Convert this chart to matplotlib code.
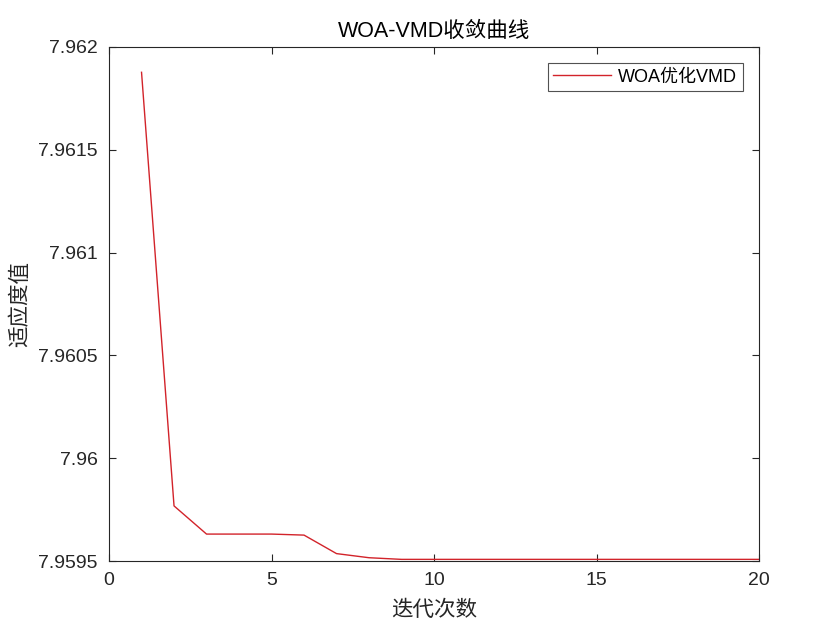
import matplotlib

matplotlib.use("Agg")
import matplotlib.pyplot as plt

plt.rcParams["font.family"] = ["Liberation Sans", "Noto Sans CJK SC"]

# convergence curve values
iterations = list(range(1, 21))
fitness = [7.961877, 7.959768, 7.959631, 7.959631, 7.959631, 7.959626,
           7.959536, 7.959516, 7.959508, 7.959508, 7.959508, 7.959508,
           7.959508, 7.959508, 7.959508, 7.959508, 7.959508, 7.959508,
           7.959508, 7.959508]

x_ticks = [0, 5, 10, 15, 20]
y_ticks = [7.9595, 7.96, 7.9605, 7.961, 7.9615, 7.962]
y_tick_labels = ["7.9595", "7.96", "7.9605", "7.961", "7.9615", "7.962"]

fig = plt.figure(figsize=(8.4, 6.3), dpi=100)
ax = fig.add_axes([0.1298, 0.1095, 0.7738, 0.8159])

ax.plot(iterations, fitness, color="#d2232a", lw=1.0, label="WOA优化VMD")

ax.set_xlim(0, 20)
ax.set_ylim(7.9595, 7.962)
ax.set_xticks(x_ticks)
ax.set_yticks(y_ticks)
ax.set_yticklabels(y_tick_labels)

ax.tick_params(direction="in", top=True, right=True, length=5, width=0.8,
               labelsize=14, colors="#262626", pad=8)
for s in ax.spines.values():
    s.set_linewidth(0.8)
    s.set_color("#262626")

ax.set_title("WOA-VMD收敛曲线", fontsize=15.5, color="black", pad=7)
ax.set_xlabel("迭代次数", fontsize=15.5, color="#262626", labelpad=8)
ax.set_ylabel("适应度值", fontsize=15.5, color="#262626", labelpad=5)

leg = ax.legend(loc="upper right", fontsize=13, frameon=True, fancybox=False,
                borderaxespad=0.9, handlelength=3.2, handletextpad=0.4,
                borderpad=0.3)
leg.get_frame().set_edgecolor("#262626")
leg.get_frame().set_linewidth(0.8)

fig.savefig("out.png", dpi=100)
